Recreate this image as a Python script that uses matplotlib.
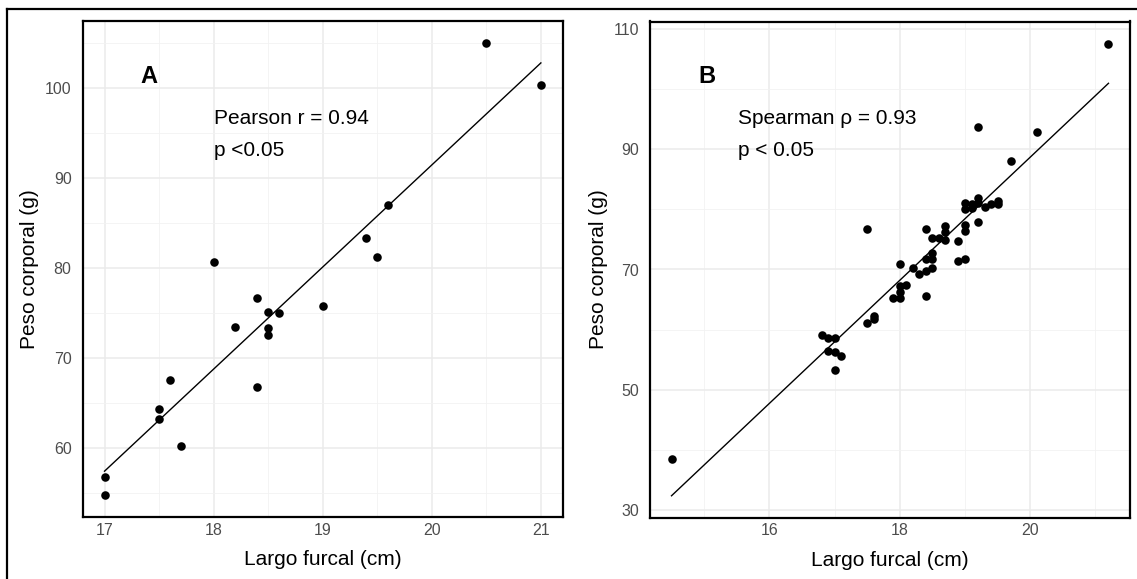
import numpy as np
import matplotlib
matplotlib.use("Agg")
import matplotlib.pyplot as plt
from matplotlib.lines import Line2D

plt.rcParams['font.family'] = ['Liberation Sans', 'DejaVu Sans']

# Panel A data (Pearson)
largo_a = [20.5, 21.0, 19.6, 19.4, 19.5, 18.0, 19.0, 18.4, 18.5, 18.6,
           18.2, 18.5, 18.5, 18.4, 17.6, 17.5, 17.5, 17.7, 17.0, 17.0]
peso_a = [105.0, 100.4, 87.0, 83.4, 81.2, 80.7, 75.8, 76.7, 75.1, 75.0,
          73.5, 73.3, 72.6, 66.8, 67.6, 64.3, 63.2, 60.2, 56.7, 54.8]

# Panel B data (Spearman)
largo_b = [14.5, 21.2, 19.2, 20.1, 19.7, 17.5,
           19.0, 19.0, 19.1, 19.2, 19.2, 19.3, 19.4, 19.5, 19.5, 19.2,
           19.0, 19.0, 18.9, 18.9, 19.0, 19.1,
           18.4, 18.7, 18.7, 18.7, 18.5, 18.6, 18.5, 18.4, 18.5, 18.4,
           18.5, 18.3, 18.2, 18.0, 18.1, 18.0, 18.0, 17.9, 18.0, 18.4,
           17.6, 17.6, 17.5,
           16.8, 16.9, 17.0, 16.9, 17.0, 17.1, 17.0]
peso_b = [38.6, 107.4, 93.6, 92.9, 88.0, 76.7,
          81.1, 80.1, 80.2, 81.9, 81.1, 80.3, 80.9, 81.4, 80.8, 77.9,
          77.4, 76.4, 74.7, 71.4, 71.7, 80.8,
          76.7, 77.3, 76.2, 74.9, 75.3, 75.3, 72.7, 71.8, 71.8, 69.8,
          70.3, 69.3, 70.3, 70.9, 67.5, 67.3, 66.3, 65.2, 65.2, 65.6,
          62.3, 61.7, 61.1,
          59.2, 58.7, 58.7, 56.4, 56.3, 55.7, 53.3]

W, H = 1137, 579
fig = plt.figure(figsize=(W / 100, H / 100), dpi=100)

# outer frame (top and left only)
fig.add_artist(Line2D([7 / W, 1], [1 - 9 / H, 1 - 9 / H], transform=fig.transFigure, color='black', lw=1.6))
fig.add_artist(Line2D([7 / W, 7 / W], [0, 1 - 9 / H], transform=fig.transFigure, color='black', lw=1.6))


def panel(rect, x, y, xlim, ylim, xmaj, xmin, ymaj, ymin, letter, letter_pos, txt1, txt2, txt_x):
    ax = fig.add_axes(rect)
    ax.set_xlim(xlim)
    ax.set_ylim(ylim)
    ax.set_xticks(xmaj)
    ax.set_xticks(xmin, minor=True)
    ax.set_yticks(ymaj)
    ax.set_yticks(ymin, minor=True)
    ax.grid(which='major', color='#EBEBEB', lw=1.1)
    ax.grid(which='minor', color='#F2F2F2', lw=0.6)
    ax.set_axisbelow(True)
    ax.tick_params(which='both', length=0)
    ax.tick_params(axis='y', labelsize=11.5, labelcolor='#4D4D4D', pad=8)
    ax.tick_params(axis='x', labelsize=11.5, labelcolor='#4D4D4D', pad=4)
    for s in ax.spines.values():
        s.set_linewidth(1.6)
        s.set_color('black')

    ax.scatter(x, y, s=38, color='black', zorder=3, linewidths=0)
    k, b = np.polyfit(x, y, 1)
    xs = np.array([min(x), max(x)])
    ax.plot(xs, k * xs + b, color='black', lw=1.0, zorder=2)

    ax.text(letter_pos[0], letter_pos[1], letter, transform=ax.transAxes,
            fontsize=17, fontweight='bold', ha='center', va='center')
    ax.text(txt_x, 0.804, txt1, transform=ax.transAxes, fontsize=15, va='center')
    ax.text(txt_x, 0.739, txt2, transform=ax.transAxes, fontsize=15, va='center')
    ax.set_xlabel('Largo furcal (cm)', fontsize=15, labelpad=9)
    ax.set_ylabel('Peso corporal (g)', fontsize=15, labelpad=4)
    return ax


panel([82.7 / W, 62 / H, 480 / W, 496 / H], largo_a, peso_a,
      (16.8, 21.2), (52.3, 107.5),
      [17, 18, 19, 20, 21], [17.5, 18.5, 19.5, 20.5],
      [60, 70, 80, 90, 100], [55, 65, 75, 85, 95, 105],
      'A', (0.137, 0.888), 'Pearson r = 0.94', 'p <0.05', 0.274)

panel([650 / W, 61.5 / H, 480 / W, 496 / H], largo_b, peso_b,
      (14.17, 21.53), (28.8, 111.2),
      [16, 18, 20], [15, 17, 19, 21],
      [30, 50, 70, 90, 110], [40, 60, 80, 100],
      'B', (0.119, 0.89), 'Spearman ρ = 0.93', 'p < 0.05', 0.183)

fig.savefig('out.png', dpi=100)
